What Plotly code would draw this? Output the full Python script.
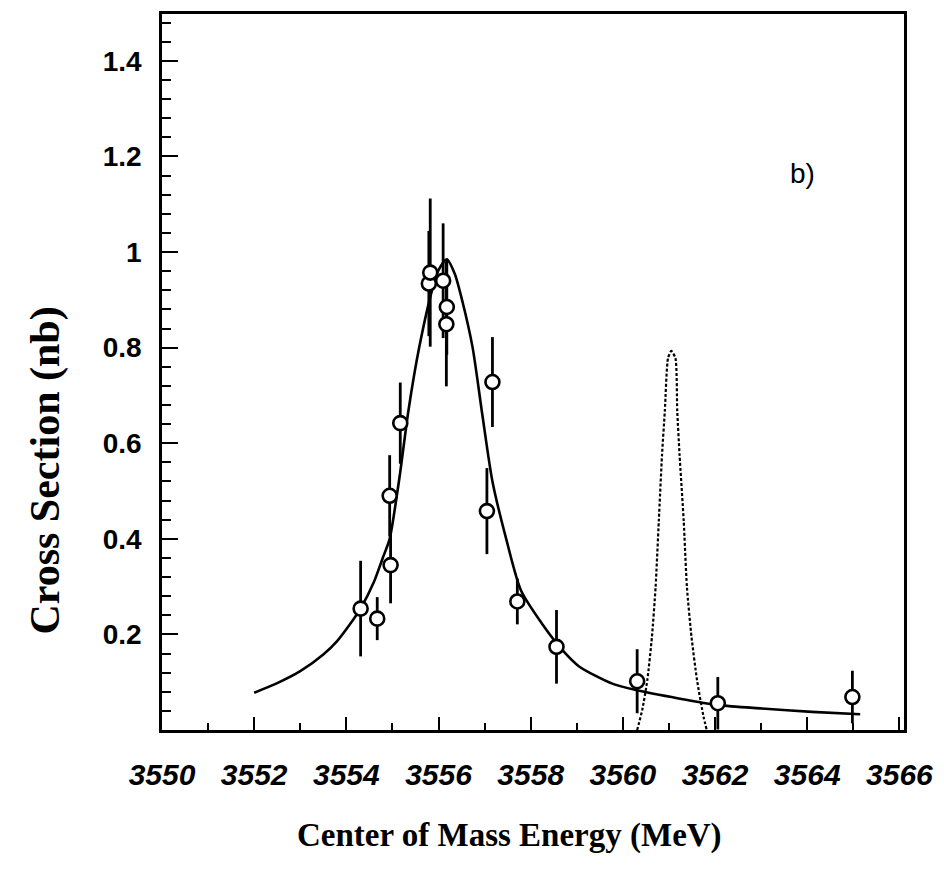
import plotly.graph_objects as go

# ---- data ----
energy = [3554.31, 3554.67, 3554.96, 3554.94, 3555.17, 3555.79, 3555.82,
          3556.10, 3556.18, 3556.17, 3557.05, 3557.17, 3557.71, 3558.56,
          3560.31, 3562.06, 3564.98]
xsec = [0.254, 0.233, 0.345, 0.490, 0.642, 0.934, 0.957,
        0.940, 0.885, 0.849, 0.458, 0.728, 0.269, 0.174,
        0.102, 0.056, 0.069]
xsec_err = [0.100, 0.045, 0.080, 0.085, 0.085, 0.110, 0.155,
            0.120, 0.100, 0.130, 0.090, 0.094, 0.048, 0.077,
            0.067, 0.055, 0.055]

fit_x = [3552.0, 3552.5, 3553.0, 3553.5, 3553.8, 3554.07, 3554.32, 3554.6,
         3554.79, 3554.94, 3555.11, 3555.17, 3555.35, 3555.58, 3555.87, 3556.0,
         3556.18, 3556.35, 3556.52, 3556.74, 3556.95, 3557.17, 3557.46, 3557.79,
         3558.25, 3558.69, 3559.05, 3559.77, 3560.31, 3561.21, 3562.08, 3563.01,
         3564.1, 3565.15]
fit_y = [0.078, 0.098, 0.123, 0.158, 0.186, 0.22, 0.256, 0.31,
         0.36, 0.40, 0.50, 0.54, 0.67, 0.80, 0.924, 0.962,
         0.985, 0.955, 0.896, 0.80, 0.66, 0.52, 0.403, 0.292,
         0.222, 0.167, 0.133, 0.097, 0.083, 0.066, 0.052, 0.045,
         0.038, 0.033]

gauss_x = [3560.31, 3560.42, 3560.53, 3560.63, 3560.71, 3560.78, 3560.85, 3560.91,
           3560.98, 3561.05, 3561.14, 3561.18, 3561.23, 3561.32, 3561.39, 3561.49,
           3561.61, 3561.75, 3561.82]
gauss_y = [0.0, 0.042, 0.104, 0.194, 0.299, 0.4375, 0.576, 0.667,
           0.778, 0.793, 0.778, 0.667, 0.576, 0.4375, 0.299, 0.194,
           0.104, 0.028, 0.0]

x_ticks = [3550, 3552, 3554, 3556, 3558, 3560, 3562, 3564, 3566]
y_ticks = [0.2, 0.4, 0.6, 0.8, 1.0, 1.2, 1.4]
y_ticklabels = ["0.2", "0.4", "0.6", "0.8", "1", "1.2", "1.4"]

x_title = "Center of Mass Energy (MeV)"
y_title = "Cross Section (nb)"
panel_label = "b)"

W, H = 944, 879
L, R, T, B = 162, 37, 11, 149
pw, ph = W - L - R, H - T - B

fig = go.Figure()

fig.add_trace(go.Scatter(
    x=gauss_x, y=gauss_y, mode="lines",
    line=dict(color="black", width=2.2, dash="3px,2px", shape="spline", smoothing=0.6),
    showlegend=False, hoverinfo="skip"))

fig.add_trace(go.Scatter(
    x=fit_x, y=fit_y, mode="lines",
    line=dict(color="black", width=2.6, shape="spline", smoothing=0.7),
    showlegend=False, hoverinfo="skip"))

fig.add_trace(go.Scatter(
    x=energy, y=xsec, mode="markers",
    marker=dict(symbol="circle", size=14, color="white",
                line=dict(color="black", width=2.6)),
    error_y=dict(type="data", array=xsec_err, visible=True,
                 color="black", thickness=2.8, width=0),
    showlegend=False))

axis_common = dict(showline=True, linecolor="black", linewidth=2.5, mirror=True,
                   ticks="inside", tickcolor="black", tickwidth=2,
                   showgrid=False, zeroline=False)

fig.update_xaxes(
    range=[3550, 3566.1], tickmode="array", tickvals=x_ticks,
    ticklen=13,
    tickfont=dict(family="Liberation Sans", size=30, color="black",
                  weight="bold", style="italic"),
    minor=dict(ticks="inside", ticklen=7, tickwidth=2, tickcolor="black",
               tickmode="linear", tick0=3550, dtick=1),
    ticklabelstandoff=16,
    **axis_common)

fig.update_yaxes(
    range=[0, 1.498], tickmode="array", tickvals=y_ticks, ticktext=y_ticklabels,
    ticklen=16,
    tickfont=dict(family="Liberation Sans", size=28, color="black", weight="bold"),
    minor=dict(ticks="inside", ticklen=9, tickwidth=2, tickcolor="black",
               tickmode="linear", tick0=0, dtick=0.04),
    ticklabelstandoff=12,
    **axis_common)

fig.add_annotation(x=(511 - L) / pw, y=(H - B - 836) / ph, xref="paper", yref="paper",
                   xanchor="center", yanchor="middle", text=x_title, showarrow=False,
                   font=dict(family="Liberation Serif", size=33, color="black", weight="bold"))
fig.add_annotation(x=(45 - L) / pw, y=(H - B - 469) / ph, xref="paper", yref="paper",
                   xanchor="center", yanchor="middle", text=y_title, showarrow=False,
                   textangle=-90,
                   font=dict(family="Liberation Serif", size=42, color="black", weight="bold"))
fig.add_annotation(x=3563.9, y=(730 - 171) / 480, xref="x", yref="y", text=panel_label,
                   xanchor="center", yanchor="middle", showarrow=False,
                   font=dict(family="Liberation Sans", size=28, color="black"))

fig.update_layout(
    width=W, height=H,
    margin=dict(l=L, r=R, t=T, b=B, pad=0),
    paper_bgcolor="white", plot_bgcolor="white",
)

fig.write_html("out.html")
